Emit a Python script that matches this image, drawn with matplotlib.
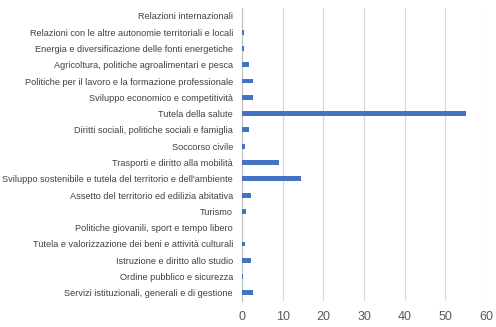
import matplotlib
matplotlib.use("Agg")
import matplotlib.pyplot as plt

categories = [
    "Relazioni internazionali",
    "Relazioni con le altre autonomie territoriali e locali",
    "Energia e diversificazione delle fonti energetiche",
    "Agricoltura, politiche agroalimentari e pesca",
    "Politiche per il lavoro e la formazione professionale",
    "Sviluppo economico e competitività",
    "Tutela della salute",
    "Diritti sociali, politiche sociali e famiglia",
    "Soccorso civile",
    "Trasporti e diritto alla mobilità",
    "Sviluppo sostenibile e tutela del territorio e dell'ambiente",
    "Assetto del territorio ed edilizia abitativa",
    "Turismo",
    "Politiche giovanili, sport e tempo libero",
    "Tutela e valorizzazione dei beni e attività culturali",
    "Istruzione e diritto allo studio",
    "Ordine pubblico e sicurezza",
    "Servizi istituzionali, generali e di gestione",
]
values = [0.0, 0.5, 0.5, 1.6, 2.8, 2.6, 55.0, 1.8, 0.7, 9.2, 14.4, 2.3,
          1.0, 0.0, 0.7, 2.1, 0.25, 2.8]
x_ticks = [0, 10, 20, 30, 40, 50, 60]

fig = plt.figure(figsize=(4.96, 3.27), dpi=100)
ax = fig.add_axes([0.488, 0.0795, 0.492, 0.897])

ypos = list(range(len(categories)))
ax.barh(ypos, values, height=0.3, color="#4472C4", zorder=3)
ax.set_ylim(len(categories) - 0.5, -0.5)
ax.set_xlim(0, 60)
ax.set_xticks(x_ticks)
ax.set_yticks(ypos)
ax.set_yticklabels(categories, fontsize=6.6, color="#404040",
                   family="Liberation Sans")
ax.tick_params(axis="y", length=0, pad=6.5)
ax.tick_params(axis="x", length=0, pad=7, labelsize=9, labelcolor="#595959")
for lbl in ax.get_xticklabels():
    lbl.set_family("Liberation Sans")

ax.grid(axis="x", color="#D9D9D9", linewidth=0.8, zorder=0)
for side in ["top", "right", "bottom"]:
    ax.spines[side].set_visible(False)
ax.spines["left"].set_color("#BFBFBF")
ax.spines["left"].set_linewidth(0.8)

fig.savefig("out.png", dpi=100)
